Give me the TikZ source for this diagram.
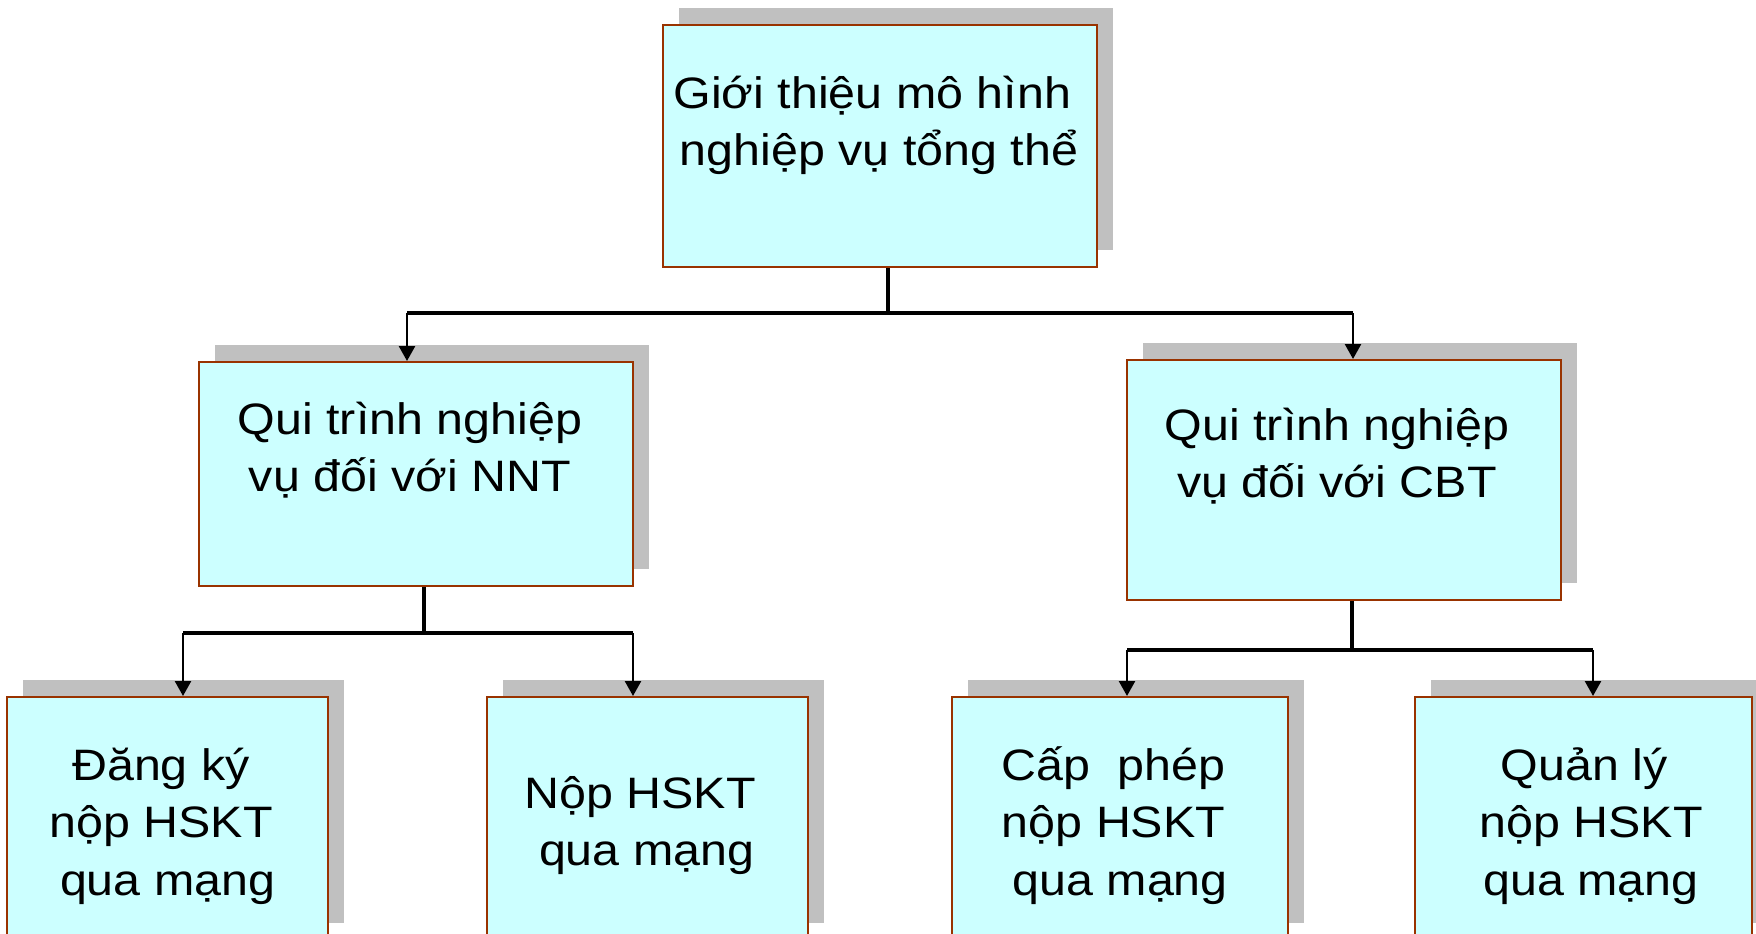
\documentclass[tikz,border=0pt]{standalone}
\usepackage{fontspec}
\setmainfont{Liberation Sans}[FakeStretch=1.1]
\usetikzlibrary{arrows.meta,shadows}
\definecolor{boxfill}{HTML}{CCFFFF}
\definecolor{boxline}{HTML}{993300}
\definecolor{shade}{HTML}{C0C0C0}
\tikzset{
  blk/.style={rectangle,draw=boxline,line width=2pt,fill=boxfill,inner sep=0,
    drop shadow={shadow xshift=16pt,shadow yshift=17pt,opacity=1,fill=shade}},
  lbl/.style={inner sep=0,anchor=base,font=\fontsize{44}{57.5}\selectfont},
  bar/.style={line width=4pt},
  arr/.style={line width=2.5pt,-{Triangle[width=16pt,length=15pt]}}
}
\newcommand{\boxtext}[1]{\begin{tabular}[t]{@{}c@{}}#1\end{tabular}}
\newcommand{\pad}{\kern13.4pt}
\begin{document}
\begin{tikzpicture}[x=1pt,y=-1pt]
\clip (0,0) rectangle (1756,934);
% boxes
\draw (880,146) node[blk,minimum width=434,minimum height=242] (top) {};
\draw (416,474) node[blk,minimum width=434,minimum height=224] (nnt) {};
\draw (1344,480) node[blk,minimum width=434,minimum height=240] (cbt) {};
\draw (167.5,818.5) node[blk,minimum width=321,minimum height=243] (dk) {};
\draw (647.5,818.5) node[blk,minimum width=321,minimum height=243] (np) {};
\draw (1120,818.5) node[blk,minimum width=336,minimum height=243] (cp) {};
\draw (1583.5,818.5) node[blk,minimum width=337,minimum height=243] (ql) {};
% texts
\draw (879,108) node[lbl] (topT) {\boxtext{Giới thiệu mô hình\pad\\nghiệp vụ tổng thể}};
\draw (410,434) node[lbl] (nntT) {\boxtext{Qui trình nghiệp\\vụ đối với NNT}};
\draw (1337,440) node[lbl] (cbtT) {\boxtext{Qui trình nghiệp\\vụ đối với CBT}};
\draw (161,780) node[lbl] (dkT) {\boxtext{Đăng ký\\nộp HSKT\\\pad qua mạng}};
\draw (640,808) node[lbl] (npT) {\boxtext{Nộp HSKT\\\pad qua mạng}};
\draw (1113.5,780) node[lbl] (cpT) {\boxtext{Cấp\ \ phép\\nộp HSKT\\\pad qua mạng}};
\draw (1591,780) node[lbl] (qlT) {\boxtext{Quản lý\pad\\nộp HSKT\\qua mạng}};
% level 1
\coordinate (j0) at (888,313);
\coordinate (l0) at (407,313);
\coordinate (r0) at (1353,313);
\draw[bar] (top.south -| j0) -- (j0);
\draw[bar] (l0) -- (r0);
\draw[arr] (l0) -- (l0 |- nnt.north);
\draw[arr] (r0) -- (r0 |- cbt.north);
% level 2, left
\coordinate (j1) at (424,633);
\coordinate (l1) at (183,633);
\coordinate (r1) at (633,633);
\draw[bar] (nnt.south -| j1) -- (j1);
\draw[bar] (l1) -- (r1);
\draw[arr] (l1) -- (l1 |- dk.north);
\draw[arr] (r1) -- (r1 |- np.north);
% level 2, right
\coordinate (j2) at (1352,650);
\coordinate (l2) at (1127,650);
\coordinate (r2) at (1593,650);
\draw[bar] (cbt.south -| j2) -- (j2);
\draw[bar] (l2) -- (r2);
\draw[arr] (l2) -- (l2 |- cp.north);
\draw[arr] (r2) -- (r2 |- ql.north);
\end{tikzpicture}
\end{document}
